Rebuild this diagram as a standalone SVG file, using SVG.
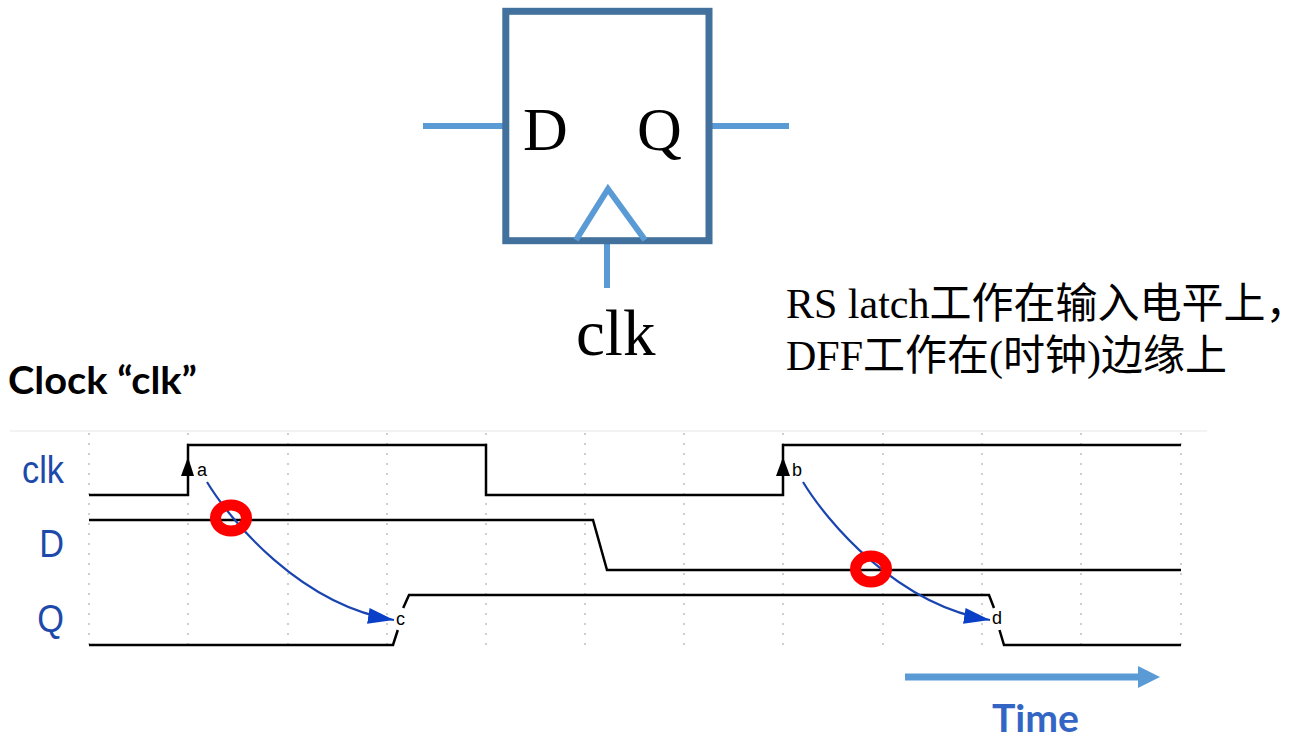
<svg xmlns="http://www.w3.org/2000/svg" width="1308" height="740" viewBox="0 0 1308 740">
  <style>
    .pin { stroke: #5B9BD5; stroke-width: 6; fill: none; }
    .serif { font-family: "Liberation Serif", "Noto Sans CJK SC", serif; fill: #000; }
    .wave { stroke: #000; stroke-width: 2.5; fill: none; stroke-linejoin: miter; }
    .grid { stroke: #c4c4c4; stroke-width: 2.2; stroke-dasharray: 0 10; stroke-linecap: round; }
    .sig { font-family: "Liberation Sans", Arial, sans-serif; font-size: 39px; fill: #1C49AA; }
    .evt { font-family: "Liberation Sans", Arial, sans-serif; font-size: 18px; fill: #000; }
    .bold { font-family: Lato, "Open Sans", sans-serif; font-weight: bold; font-size: 38px; }
    .flow { stroke: #1A45B0; stroke-width: 2.2; fill: none; }
    .ring { stroke: #FF0000; stroke-width: 11; fill: none; }
  </style>
  <defs>
    <marker id="blueHead" markerUnits="userSpaceOnUse" markerWidth="28" markerHeight="18" refX="26" refY="8" orient="auto">
      <path d="M0,0 L26,8 L0,16 z" fill="#0A3FC8"/>
    </marker>
  </defs>
  <rect width="1308" height="740" fill="#fff"/>

  <g id="flipflop">
    <line class="pin" x1="423" y1="126" x2="506" y2="126"/>
    <line class="pin" x1="708" y1="126" x2="789" y2="126"/>
    <line class="pin" x1="607" y1="240" x2="607" y2="288"/>
    <rect x="505.8" y="11.3" width="203.2" height="229.4" fill="none" stroke="#41719C" stroke-width="7"/>
    <polyline class="pin" points="576,240 608,189 645,240"/>
    <text class="serif" x="523" y="150" font-size="62">D</text>
    <text class="serif" x="637" y="150" font-size="62">Q</text>
    <text class="serif" x="576" y="355" font-size="65">clk</text>
  </g>

  <g id="note">
    <text class="serif" x="786" y="318" font-size="42">RS latch工作在输入电平上，</text>
    <text class="serif" x="786" y="370" font-size="42">DFF工作在(时钟)边缘上</text>
  </g>

  <g id="title">
    <text class="bold" x="8" y="394" fill="#000" textLength="189" lengthAdjust="spacingAndGlyphs">Clock “clk”</text>
  </g>

  <g id="grid">
    <line x1="10" y1="431" x2="1207" y2="431" stroke="#efefef" stroke-width="1.5"/>
    <line class="grid" x1="89" y1="434" x2="89" y2="654"/>
    <line class="grid" x1="188" y1="434" x2="188" y2="654"/>
    <line class="grid" x1="288" y1="434" x2="288" y2="654"/>
    <line class="grid" x1="387" y1="434" x2="387" y2="654"/>
    <line class="grid" x1="486" y1="434" x2="486" y2="654"/>
    <line class="grid" x1="585" y1="434" x2="585" y2="654"/>
    <line class="grid" x1="684" y1="434" x2="684" y2="654"/>
    <line class="grid" x1="783" y1="434" x2="783" y2="654"/>
    <line class="grid" x1="883" y1="434" x2="883" y2="654"/>
    <line class="grid" x1="982" y1="434" x2="982" y2="654"/>
    <line class="grid" x1="1081" y1="434" x2="1081" y2="654"/>
    <line class="grid" x1="1181" y1="434" x2="1181" y2="654"/>
  </g>

  <g id="signal-labels">
    <text class="sig" transform="translate(64,483) scale(0.88,1)" text-anchor="end">clk</text>
    <text class="sig" transform="translate(64,557) scale(0.88,1)" text-anchor="end">D</text>
    <text class="sig" transform="translate(64,632) scale(0.88,1)" text-anchor="end">Q</text>
  </g>

  <g id="waveforms">
    <path id="wave-clk" class="wave" d="M89,495 H188 V445 H486 V495 H783 V445 H1181"/>
    <path id="wave-d" class="wave" d="M89,520 H593 L607,570 H1181"/>
    <path id="wave-q" class="wave" d="M89,645 H393 L397.8,630 M403.2,608 L409,595 H989 L994,608 M999.5,630 L1004,645 H1181"/>
    <polygon points="188,457 181,476 194,476" fill="#000"/>
    <polygon points="783,457 776,476 790,476" fill="#000"/>
    <text class="evt" x="197" y="476">a</text>
    <text class="evt" x="792" y="476">b</text>
    <text class="evt" x="396" y="625">c</text>
    <text class="evt" x="992" y="624">d</text>
  </g>

  <g id="connectors">
    <path class="flow" d="M207,482 C230,520 300,605 394,620" marker-end="url(#blueHead)"/>
    <path class="flow" d="M803,482 C826,520 896,605 990,620" marker-end="url(#blueHead)"/>
  </g>

  <g id="highlights">
    <ellipse class="ring" cx="231" cy="518" rx="15.5" ry="13"/>
    <ellipse class="ring" cx="871" cy="569" rx="15.5" ry="13"/>
  </g>

  <g id="time-axis">
    <line x1="905" y1="677" x2="1140" y2="677" stroke="#5B9BD5" stroke-width="7"/>
    <polygon points="1138,666 1160,677 1138,688" fill="#5B9BD5"/>
    <text class="bold" x="992" y="732" fill="#3366C4" textLength="87" lengthAdjust="spacingAndGlyphs">Time</text>
  </g>
</svg>
